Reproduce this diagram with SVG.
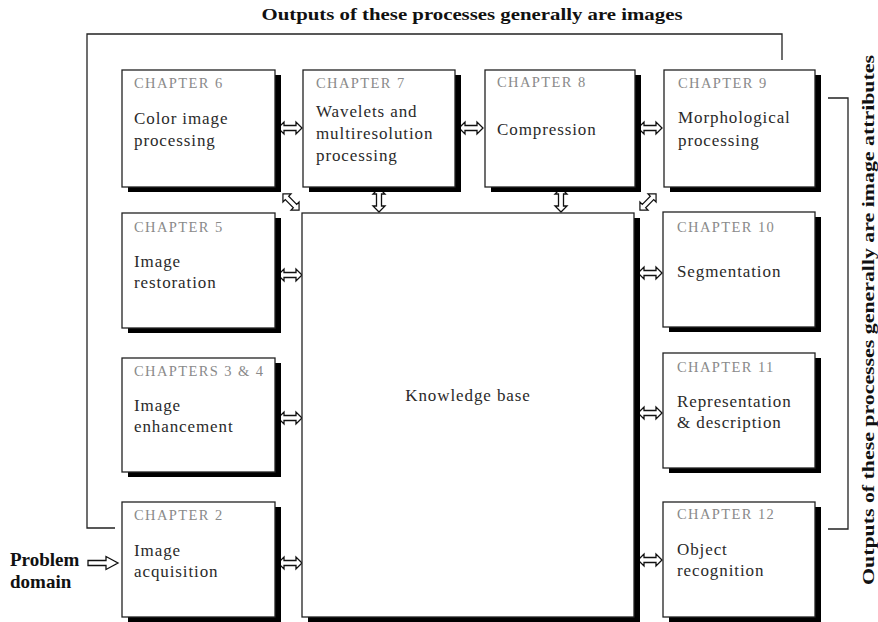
<svg xmlns="http://www.w3.org/2000/svg" xmlns:xlink="http://www.w3.org/1999/xlink" width="878" height="622" viewBox="0 0 878 622">
<style>
.box{fill:#fff;stroke:#222;stroke-width:1.3}
.sh{fill:#000}
.ch{font-family:"Liberation Serif",serif;font-size:14.5px;fill:#8a8a8a;letter-spacing:1.4px}
.tx{font-family:"Liberation Serif",serif;font-size:17px;fill:#2a2a2a;letter-spacing:0.9px}
.bold{font-family:"Liberation Serif",serif;font-weight:bold;fill:#111}
.ln{fill:none;stroke:#222;stroke-width:1.3}
.arr{fill:#fff;stroke:#111;stroke-width:1.3;stroke-linejoin:miter}
</style>
<defs>
<path id="dbl" d="M-12,0 L-6,-6 L-6,-2.5 L6,-2.5 L6,-6 L12,0 L6,6 L6,2.5 L-6,2.5 L-6,6 Z"/>
<path id="sgl" d="M-15,-2.5 L3,-2.5 L3,-6.5 L15,0 L3,6.5 L3,2.5 L-15,2.5 Z"/>
</defs>
<rect width="878" height="622" fill="#fff"/>

<text class="bold" x="472" y="20" font-size="17" text-anchor="middle" textLength="421" lengthAdjust="spacingAndGlyphs">Outputs of these processes generally are images</text>
<text class="bold" font-size="17" text-anchor="middle" transform="translate(874,320) rotate(-90)" textLength="530" lengthAdjust="spacingAndGlyphs">Outputs of these processes generally are image attributes</text>
<g id="problem-domain">
<text class="bold" x="10" y="566" font-size="19">Problem</text>
<text class="bold" x="10" y="588" font-size="19">domain</text>
</g>

<g id="connectors">
<polyline class="ln" points="782,60 782,34 87,34 87,528 115,528"/>
<polyline class="ln" points="828,98 848,98 848,529 828,529"/>
<use href="#sgl" class="arr" transform="translate(103,563)"/>
<use href="#dbl" class="arr" transform="translate(290,128)"/>
<use href="#dbl" class="arr" transform="translate(471,128)"/>
<use href="#dbl" class="arr" transform="translate(650,128)"/>
<use href="#dbl" class="arr" transform="translate(290,275)"/>
<use href="#dbl" class="arr" transform="translate(290,418)"/>
<use href="#dbl" class="arr" transform="translate(290,563)"/>
<use href="#dbl" class="arr" transform="translate(650,273)"/>
<use href="#dbl" class="arr" transform="translate(650,413)"/>
<use href="#dbl" class="arr" transform="translate(650,560)"/>
<use href="#dbl" class="arr" transform="translate(379,200) rotate(90)"/>
<use href="#dbl" class="arr" transform="translate(561,200) rotate(90)"/>
<use href="#dbl" class="arr" transform="translate(291,202) rotate(45) scale(0.95)"/>
<use href="#dbl" class="arr" transform="translate(648,202) rotate(-45) scale(0.95)"/>
</g>

<g id="kb">
<rect class="sh" x="308" y="218" width="332" height="404"/>
<rect class="box" x="302" y="213" width="332" height="404"/>
<text class="tx" x="468" y="401" text-anchor="middle">Knowledge base</text>
</g>

<g id="ch6">
<rect class="sh" x="128" y="75" width="153" height="117"/>
<rect class="box" x="122" y="70" width="153" height="117"/>
<text class="ch" x="134" y="88">CHAPTER 6</text>
<text class="tx" x="134" y="124">Color image</text>
<text class="tx" x="134" y="146">processing</text>
</g>
<g id="ch7">
<rect class="sh" x="309" y="75" width="152" height="117"/>
<rect class="box" x="303" y="70" width="152" height="117"/>
<text class="ch" x="316" y="88">CHAPTER 7</text>
<text class="tx" x="316" y="117">Wavelets and</text>
<text class="tx" x="316" y="139">multiresolution</text>
<text class="tx" x="316" y="161">processing</text>
</g>
<g id="ch8">
<rect class="sh" x="491" y="75" width="150" height="117"/>
<rect class="box" x="485" y="70" width="150" height="117"/>
<text class="ch" x="497" y="87">CHAPTER 8</text>
<text class="tx" x="497" y="135">Compression</text>
</g>
<g id="ch9">
<rect class="sh" x="670" y="75" width="151" height="117"/>
<rect class="box" x="664" y="70" width="151" height="117"/>
<text class="ch" x="678" y="88">CHAPTER 9</text>
<text class="tx" x="678" y="123">Morphological</text>
<text class="tx" x="678" y="146">processing</text>
</g>
<g id="ch5">
<rect class="sh" x="128" y="218" width="153" height="115"/>
<rect class="box" x="122" y="213" width="153" height="115"/>
<text class="ch" x="134" y="232">CHAPTER 5</text>
<text class="tx" x="134" y="267">Image</text>
<text class="tx" x="134" y="288">restoration</text>
</g>
<g id="ch34">
<rect class="sh" x="128" y="363" width="153" height="114"/>
<rect class="box" x="122" y="358" width="153" height="114"/>
<text class="ch" x="134" y="376">CHAPTERS 3 &amp; 4</text>
<text class="tx" x="134" y="411">Image</text>
<text class="tx" x="134" y="432">enhancement</text>
</g>
<g id="ch2">
<rect class="sh" x="128" y="507" width="153" height="115"/>
<rect class="box" x="122" y="502" width="153" height="115"/>
<text class="ch" x="134" y="520">CHAPTER 2</text>
<text class="tx" x="134" y="556">Image</text>
<text class="tx" x="134" y="577">acquisition</text>
</g>
<g id="ch10">
<rect class="sh" x="669" y="217" width="152" height="115"/>
<rect class="box" x="663" y="212" width="152" height="115"/>
<text class="ch" x="677" y="232">CHAPTER 10</text>
<text class="tx" x="677" y="277">Segmentation</text>
</g>
<g id="ch11">
<rect class="sh" x="669" y="358" width="152" height="115"/>
<rect class="box" x="663" y="353" width="152" height="115"/>
<text class="ch" x="677" y="372">CHAPTER 11</text>
<text class="tx" x="677" y="407">Representation</text>
<text class="tx" x="677" y="428">&amp; description</text>
</g>
<g id="ch12">
<rect class="sh" x="669" y="507" width="152" height="115"/>
<rect class="box" x="663" y="502" width="152" height="115"/>
<text class="ch" x="677" y="519">CHAPTER 12</text>
<text class="tx" x="677" y="555">Object</text>
<text class="tx" x="677" y="576">recognition</text>
</g>
</svg>
